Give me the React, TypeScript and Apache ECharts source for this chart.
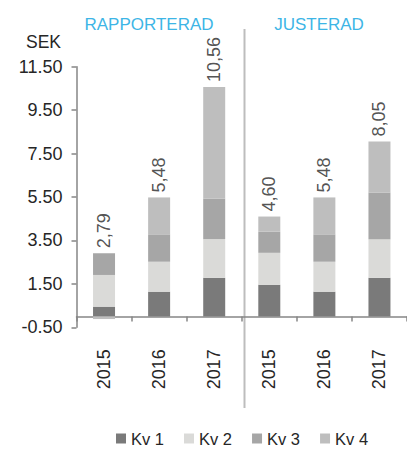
import React, { useEffect, useRef } from "react";
import * as echarts from "echarts";

const categories = ["2015", "2016", "2017", "2015", "2016", "2017"];
const kv1 = [0.45, 1.14, 1.78, 1.46, 1.14, 1.78];
const kv2 = [1.46, 1.38, 1.78, 1.47, 1.38, 1.78];
const kv3 = [1.0, 1.26, 1.87, 0.97, 1.26, 2.15];
const kv4 = [-0.12, 1.7, 5.13, 0.7, 1.7, 2.34];
const seriesNames = ["Kv 1", "Kv 2", "Kv 3", "Kv 4"];
const groupTitles = ["RAPPORTERAD", "JUSTERAD"];
const yMin = -0.5;
const yMax = 11.5;
const yInterval = 2;

const FONT = "Liberation Sans, Arial, sans-serif";
const TEXT = "#262626";
const COLORS = ["#7a7a7a", "#dadad8", "#a6a6a6", "#bebebe"];

export default function App() {
  const ref = useRef<HTMLDivElement>(null);
  useEffect(() => {
    if (!ref.current) return;
    const chart = echarts.init(ref.current, undefined, { renderer: "svg" });
    const all = [kv1, kv2, kv3, kv4];
    const totals = categories.map((_, i) => all.reduce((s, a) => s + a[i], 0));
    const posTops = categories.map((_, i) => all.reduce((s, a) => s + Math.max(0, a[i]), 0));

    const gridLeft = 76.5;
    const gridWidth = 336;
    const gridTop = 66.7;
    const gridHeight = 260.6;
    const sepX = gridLeft + (gridWidth / categories.length) * 3;

    chart.setOption({
      animation: false,
      textStyle: { fontFamily: FONT },
      grid: { left: gridLeft, top: gridTop, width: gridWidth, height: gridHeight, containLabel: false },
      legend: {
        data: seriesNames,
        left: 116,
        top: 430,
        padding: 0,
        icon: "rect",
        itemWidth: 10,
        itemHeight: 10,
        itemGap: 20,
        textStyle: { fontSize: 16.5, color: TEXT, fontFamily: FONT },
      },
      xAxis: {
        type: "category",
        data: categories,
        axisLine: { onZero: true, lineStyle: { color: "#868686", width: 1.5 } },
        axisTick: { show: true, length: 5, lineStyle: { color: "#868686", width: 1.5 } },
        axisLabel: { rotate: 90, fontSize: 18, color: TEXT, margin: 22, fontFamily: FONT },
      },
      yAxis: {
        type: "value",
        min: yMin,
        max: yMax,
        interval: yInterval,
        axisLine: { show: true, lineStyle: { color: "#868686", width: 1.5 } },
        axisTick: { show: true, length: 5, lineStyle: { color: "#868686", width: 1.5 } },
        splitLine: { show: false },
        axisLabel: {
          fontSize: 18,
          color: TEXT,
          margin: 14,
          fontFamily: FONT,
          formatter: (v: number) => v.toFixed(2),
        },
      },
      graphic: [
        {
          type: "text",
          x: 61,
          y: 42,
          style: { text: "SEK", fontSize: 17.5, fill: TEXT, align: "right", verticalAlign: "middle", fontFamily: FONT },
        },
        {
          type: "text",
          x: 149,
          y: 24,
          style: { text: groupTitles[0], fontSize: 17, fill: "#3db5e6", align: "center", verticalAlign: "middle", fontFamily: FONT },
        },
        {
          type: "text",
          x: 319,
          y: 24,
          style: { text: groupTitles[1], fontSize: 17, fill: "#3db5e6", align: "center", verticalAlign: "middle", fontFamily: FONT },
        },
        {
          type: "line",
          shape: { x1: sepX, y1: 29, x2: sepX, y2: 408 },
          style: { stroke: "#bdbdbd", lineWidth: 2 },
        },
      ],
      series: [
        ...all.map((arr, k) => ({
          name: seriesNames[k],
          type: "bar",
          stack: "q",
          barWidth: 22,
          data: arr,
          itemStyle: { color: COLORS[k] },
        })),
        {
          name: "total",
          type: "scatter",
          symbolSize: 0,
          data: posTops,
          silent: true,
          label: {
            show: true,
            position: "top",
            rotate: 90,
            align: "left",
            verticalAlign: "middle",
            distance: 5,
            fontSize: 18,
            color: TEXT,
            fontFamily: FONT,
            formatter: (p: any) => totals[p.dataIndex].toFixed(2).replace(".", ","),
          },
        },
      ],
    });
    return () => chart.dispose();
  }, []);
  return (
    <div
      ref={ref}
      style={{ position: "fixed", left: 0, top: 0, width: 407, height: 450, background: "#fff" }}
    />
  );
}
